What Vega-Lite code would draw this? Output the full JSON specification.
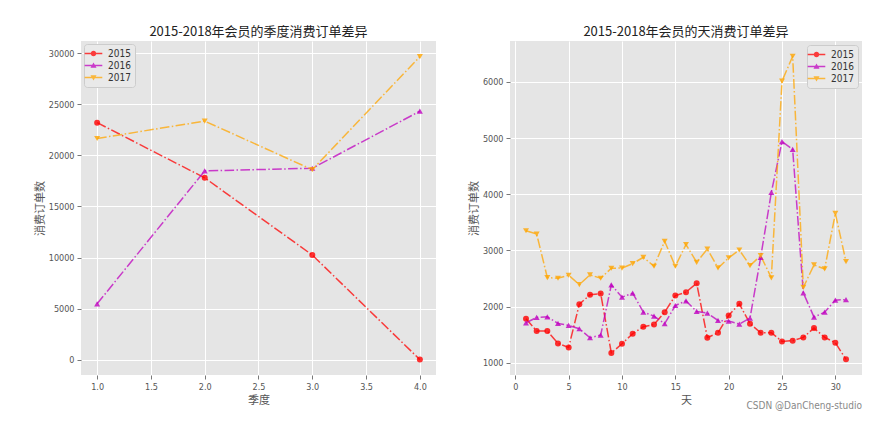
{
  "$schema": "https://vega.github.io/schema/vega-lite/v6.json",
  "padding": {"left": 34, "top": 26, "right": 5, "bottom": 5},
  "background": "white",
  "datasets": {
    "q": [
      {"quarter": 1, "year": "2015", "orders": 23200},
      {"quarter": 2, "year": "2015", "orders": 17800},
      {"quarter": 3, "year": "2015", "orders": 10250},
      {"quarter": 4, "year": "2015", "orders": 20},
      {"quarter": 1, "year": "2016", "orders": 5480},
      {"quarter": 2, "year": "2016", "orders": 18480},
      {"quarter": 3, "year": "2016", "orders": 18740},
      {"quarter": 4, "year": "2016", "orders": 24320},
      {"quarter": 1, "year": "2017", "orders": 21650},
      {"quarter": 2, "year": "2017", "orders": 23350},
      {"quarter": 3, "year": "2017", "orders": 18600},
      {"quarter": 4, "year": "2017", "orders": 29650}
    ],
    "d": [
      {"day": 1, "year": "2015", "orders": 1781}, {"day": 2, "year": "2015", "orders": 1563}, {"day": 3, "year": "2015", "orders": 1563},
      {"day": 4, "year": "2015", "orders": 1343}, {"day": 5, "year": "2015", "orders": 1272}, {"day": 6, "year": "2015", "orders": 2042},
      {"day": 7, "year": "2015", "orders": 2208}, {"day": 8, "year": "2015", "orders": 2231}, {"day": 9, "year": "2015", "orders": 1172},
      {"day": 10, "year": "2015", "orders": 1337}, {"day": 11, "year": "2015", "orders": 1515}, {"day": 12, "year": "2015", "orders": 1639},
      {"day": 13, "year": "2015", "orders": 1680}, {"day": 14, "year": "2015", "orders": 1900}, {"day": 15, "year": "2015", "orders": 2195},
      {"day": 16, "year": "2015", "orders": 2255}, {"day": 17, "year": "2015", "orders": 2415}, {"day": 18, "year": "2015", "orders": 1444},
      {"day": 19, "year": "2015", "orders": 1533}, {"day": 20, "year": "2015", "orders": 1840}, {"day": 21, "year": "2015", "orders": 2048},
      {"day": 22, "year": "2015", "orders": 1693}, {"day": 23, "year": "2015", "orders": 1533}, {"day": 24, "year": "2015", "orders": 1533},
      {"day": 25, "year": "2015", "orders": 1379}, {"day": 26, "year": "2015", "orders": 1391}, {"day": 27, "year": "2015", "orders": 1450},
      {"day": 28, "year": "2015", "orders": 1616}, {"day": 29, "year": "2015", "orders": 1450}, {"day": 30, "year": "2015", "orders": 1355},
      {"day": 31, "year": "2015", "orders": 1059},
      {"day": 1, "year": "2016", "orders": 1710}, {"day": 2, "year": "2016", "orders": 1805}, {"day": 3, "year": "2016", "orders": 1817},
      {"day": 4, "year": "2016", "orders": 1698}, {"day": 5, "year": "2016", "orders": 1663}, {"day": 6, "year": "2016", "orders": 1604},
      {"day": 7, "year": "2016", "orders": 1444}, {"day": 8, "year": "2016", "orders": 1491}, {"day": 9, "year": "2016", "orders": 2385},
      {"day": 10, "year": "2016", "orders": 2167}, {"day": 11, "year": "2016", "orders": 2238}, {"day": 12, "year": "2016", "orders": 1900},
      {"day": 13, "year": "2016", "orders": 1829}, {"day": 14, "year": "2016", "orders": 1693}, {"day": 15, "year": "2016", "orders": 2018},
      {"day": 16, "year": "2016", "orders": 2101}, {"day": 17, "year": "2016", "orders": 1912}, {"day": 18, "year": "2016", "orders": 1882},
      {"day": 19, "year": "2016", "orders": 1752}, {"day": 20, "year": "2016", "orders": 1740}, {"day": 21, "year": "2016", "orders": 1687},
      {"day": 22, "year": "2016", "orders": 1793}, {"day": 23, "year": "2016", "orders": 2877}, {"day": 24, "year": "2016", "orders": 4032},
      {"day": 25, "year": "2016", "orders": 4938}, {"day": 26, "year": "2016", "orders": 4801}, {"day": 27, "year": "2016", "orders": 2243},
      {"day": 28, "year": "2016", "orders": 1811}, {"day": 29, "year": "2016", "orders": 1900}, {"day": 30, "year": "2016", "orders": 2113},
      {"day": 31, "year": "2016", "orders": 2124},
      {"day": 1, "year": "2017", "orders": 3350}, {"day": 2, "year": "2017", "orders": 3291}, {"day": 3, "year": "2017", "orders": 2515},
      {"day": 4, "year": "2017", "orders": 2504}, {"day": 5, "year": "2017", "orders": 2557}, {"day": 6, "year": "2017", "orders": 2391},
      {"day": 7, "year": "2017", "orders": 2563}, {"day": 8, "year": "2017", "orders": 2504}, {"day": 9, "year": "2017", "orders": 2682},
      {"day": 10, "year": "2017", "orders": 2685}, {"day": 11, "year": "2017", "orders": 2764}, {"day": 12, "year": "2017", "orders": 2877},
      {"day": 13, "year": "2017", "orders": 2717}, {"day": 14, "year": "2017", "orders": 3162}, {"day": 15, "year": "2017", "orders": 2717},
      {"day": 16, "year": "2017", "orders": 3105}, {"day": 17, "year": "2017", "orders": 2788}, {"day": 18, "year": "2017", "orders": 3025},
      {"day": 19, "year": "2017", "orders": 2687}, {"day": 20, "year": "2017", "orders": 2865}, {"day": 21, "year": "2017", "orders": 3007},
      {"day": 22, "year": "2017", "orders": 2728}, {"day": 23, "year": "2017", "orders": 2906}, {"day": 24, "year": "2017", "orders": 2510},
      {"day": 25, "year": "2017", "orders": 6014}, {"day": 26, "year": "2017", "orders": 6458}, {"day": 27, "year": "2017", "orders": 2340},
      {"day": 28, "year": "2017", "orders": 2741}, {"day": 29, "year": "2017", "orders": 2670}, {"day": 30, "year": "2017", "orders": 3659},
      {"day": 31, "year": "2017", "orders": 2800}
    ]
  },
  "title": {"text": "CSDN @DanCheng-studio", "orient": "bottom", "anchor": "end", "offset": -4, "fontSize": 10, "color": "#888888", "font": "DejaVu Sans Condensed", "fontWeight": "normal"},
  "spacing": 32,
  "resolve": {"scale": {"color": "independent", "shape": "independent", "x": "independent", "y": "independent"}, "legend": {"color": "independent", "shape": "independent"}},
  "hconcat": [
    {
      "width": 355,
      "height": 334,
      "title": {"text": "2015-2018年会员的季度消费订单差异"},
      "data": {"name": "q"},
      "encoding": {
        "x": {"field": "quarter", "type": "quantitative", "title": "季度", "scale": {"domain": [0.85, 4.15], "nice": false, "zero": false}, "axis": {"values": [1, 1.5, 2, 2.5, 3, 3.5, 4], "format": ".1f"}},
        "y": {"field": "orders", "type": "quantitative", "title": "消费订单数", "scale": {"domain": [-1485, 31185], "nice": false, "zero": false}, "axis": {"values": [0, 5000, 10000, 15000, 20000, 25000, 30000], "format": "d"}},
        "color": {"field": "year", "type": "nominal", "scale": {"domain": ["2015", "2016", "2017"], "range": ["#ff0000", "#bf00bf", "#ffa500"]},
          "legend": {"title": null, "orient": "top-left", "offset": 3, "fillColor": "#e9e9e9", "strokeColor": "#cccccc", "padding": 4, "cornerRadius": 3, "labelFontSize": 10, "labelColor": "#333333", "labelFont": "DejaVu Sans Condensed", "symbolSize": 121, "symbolStrokeWidth": 0, "rowPadding": 1, "labelOffset": 9}}
      },
      "layer": [
        {"mark": {"type": "line", "strokeWidth": 1.5, "strokeDash": [9.6, 2.4, 1.5, 2.4], "opacity": 0.75}},
        {"transform": [{"filter": "datum.year == '2015'"}], "mark": {"type": "point", "filled": true, "size": 36, "opacity": 0.8, "shape": "circle"}},
        {"transform": [{"filter": "datum.year == '2016'"}], "mark": {"type": "point", "filled": true, "size": 36, "opacity": 0.8, "shape": "triangle-up"}},
        {"transform": [{"filter": "datum.year == '2017'"}], "mark": {"type": "point", "filled": true, "size": 36, "opacity": 0.8, "shape": "triangle-down"}},
        {"transform": [{"filter": "false"}], "mark": {"type": "point", "filled": true, "opacity": 0.8},
         "encoding": {"shape": {"field": "year", "type": "nominal",
           "scale": {"domain": ["2015", "2016", "2017"], "range": [
             "M-1.6,-0.12H1.6V0.12H-1.6ZM-0.5,0A0.5,0.5 0 1 1 0.5,0A0.5,0.5 0 1 1 -0.5,0Z",
             "M-1.6,-0.12H1.6V0.12H-1.6ZM0,-0.55L0.55,0.4L-0.55,0.4Z",
             "M-1.6,-0.12H1.6V0.12H-1.6ZM0,0.55L-0.55,-0.4L0.55,-0.4Z"]},
           "legend": {"title": null, "orient": "top-left", "offset": 3, "fillColor": "#e9e9e9", "strokeColor": "#cccccc", "padding": 4, "cornerRadius": 3, "labelFontSize": 10, "labelColor": "#333333", "labelFont": "DejaVu Sans Condensed", "symbolSize": 121, "symbolStrokeWidth": 0, "rowPadding": 1, "labelOffset": 9}}}}
      ]
    },
    {
      "width": 352,
      "height": 334,
      "title": {"text": "2015-2018年会员的天消费订单差异"},
      "data": {"name": "d"},
      "encoding": {
        "x": {"field": "day", "type": "quantitative", "title": "天", "scale": {"domain": [-0.5, 32.5], "nice": false, "zero": false}, "axis": {"values": [0, 5, 10, 15, 20, 25, 30], "format": "d"}},
        "y": {"field": "orders", "type": "quantitative", "title": "消费订单数", "scale": {"domain": [780, 6730], "nice": false, "zero": false}, "axis": {"values": [1000, 2000, 3000, 4000, 5000, 6000], "format": "d"}},
        "color": {"field": "year", "type": "nominal", "scale": {"domain": ["2015", "2016", "2017"], "range": ["#ff0000", "#bf00bf", "#ffa500"]},
          "legend": {"title": null, "orient": "top-right", "offset": 4, "fillColor": "#e9e9e9", "strokeColor": "#cccccc", "padding": 4, "cornerRadius": 3, "labelFontSize": 10, "labelColor": "#333333", "labelFont": "DejaVu Sans Condensed", "symbolSize": 121, "symbolStrokeWidth": 0, "rowPadding": 1, "labelOffset": 9}}
      },
      "layer": [
        {"mark": {"type": "line", "strokeWidth": 1.5, "strokeDash": [9.6, 2.4, 1.5, 2.4], "opacity": 0.75}},
        {"transform": [{"filter": "datum.year == '2015'"}], "mark": {"type": "point", "filled": true, "size": 36, "opacity": 0.8, "shape": "circle"}},
        {"transform": [{"filter": "datum.year == '2016'"}], "mark": {"type": "point", "filled": true, "size": 36, "opacity": 0.8, "shape": "triangle-up"}},
        {"transform": [{"filter": "datum.year == '2017'"}], "mark": {"type": "point", "filled": true, "size": 36, "opacity": 0.8, "shape": "triangle-down"}},
        {"transform": [{"filter": "false"}], "mark": {"type": "point", "filled": true, "opacity": 0.8},
         "encoding": {"shape": {"field": "year", "type": "nominal",
           "scale": {"domain": ["2015", "2016", "2017"], "range": [
             "M-1.6,-0.12H1.6V0.12H-1.6ZM-0.5,0A0.5,0.5 0 1 1 0.5,0A0.5,0.5 0 1 1 -0.5,0Z",
             "M-1.6,-0.12H1.6V0.12H-1.6ZM0,-0.55L0.55,0.4L-0.55,0.4Z",
             "M-1.6,-0.12H1.6V0.12H-1.6ZM0,0.55L-0.55,-0.4L0.55,-0.4Z"]},
           "legend": {"title": null, "orient": "top-right", "offset": 4, "fillColor": "#e9e9e9", "strokeColor": "#cccccc", "padding": 4, "cornerRadius": 3, "labelFontSize": 10, "labelColor": "#333333", "labelFont": "DejaVu Sans Condensed", "symbolSize": 121, "symbolStrokeWidth": 0, "rowPadding": 1, "labelOffset": 9}}}}
      ]
    }
  ],
  "config": {
    "view": {"fill": "#e5e5e5", "stroke": null},
    "font": "Noto Sans CJK SC",
    "axis": {"gridColor": "#ffffff", "gridWidth": 1, "gridOpacity": 1, "domain": false, "tickColor": "#555555", "tickSize": 4, "tickWidth": 0.8, "labelColor": "#555555", "labelFont": "DejaVu Sans Condensed", "labelFontSize": 9, "labelPadding": 3, "titleFont": "Noto Sans CJK SC", "titleFontSize": 11, "titleColor": "#555555", "titleFontWeight": "normal", "titlePadding": 3},
    "title": {"font": "Noto Sans CJK SC", "fontSize": 13, "fontWeight": "normal", "color": "#222222", "offset": 2}
  }
}
